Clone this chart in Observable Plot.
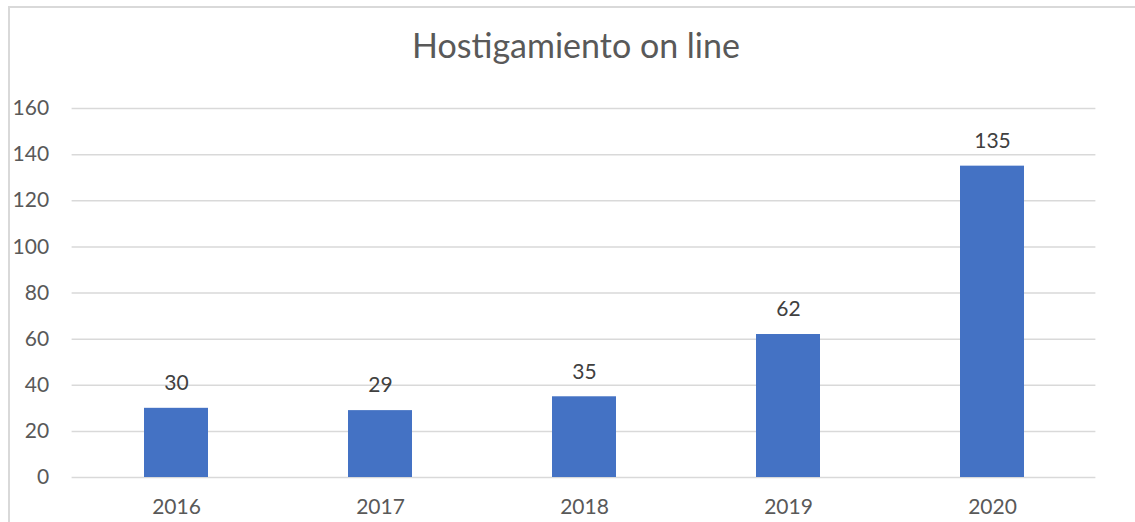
<!DOCTYPE html>
<html>
<head>
<meta charset="utf-8">
<script src="https://cdn.jsdelivr.net/npm/d3@7"></script>
<script src="https://cdn.jsdelivr.net/npm/@observablehq/plot@0.6"></script>
<style>
  html, body { margin: 0; padding: 0; background: #fff; overflow: hidden; }
  body { width: 1135px; height: 522px; position: relative; font-family: Lato, "Open Sans", sans-serif; }
  #frame { position: absolute; left: 8px; top: 6px; width: 1200px; height: 600px; border: 2px solid #d9d9d9; box-sizing: border-box; }
  #title { position: absolute; left: 0; top: 25px; width: 1152px; text-align: center; font-size: 34px; color: #595959; line-height: 40px; }
  #chart { position: absolute; left: 0; top: 80px; }
</style>
</head>
<body>
<div id="frame"></div>
<div id="title">Hostigamiento on line</div>
<div id="chart"></div>
<script>
const years = ["2016", "2017", "2018", "2019", "2020"];
const values = [30, 29, 35, 62, 135];
const yTicks = [0, 20, 40, 60, 80, 100, 120, 140, 160];

const data = years.map((y, i) => ({year: y, value: values[i]}));

const chart = Plot.plot({
  width: 1135,
  height: 442,
  marginTop: 28,
  marginBottom: 45,
  marginLeft: 71.6,
  marginRight: 39.6,
  style: {fontFamily: "Lato, 'Open Sans', sans-serif", fontSize: "21px", color: "#595959", background: "transparent"},
  x: {domain: years, paddingInner: 0.687, paddingOuter: 0.3435, label: null, tickSize: 0, tickPadding: 22},
  y: {domain: [0, 160], ticks: yTicks, label: null, tickSize: 0, tickPadding: 23},
  marks: [
    Plot.ruleY(yTicks, {stroke: "#d9d9d9", strokeWidth: 1.5, strokeOpacity: 1}),
    Plot.barY(data, {x: "year", y: "value", fill: "#4472c4"}),
    Plot.text(data, {x: "year", y: "value", text: d => String(d.value), dy: -25, fill: "#404040", fontSize: 21}),
    Plot.axisX({tickSize: 0, tickPadding: 22, fontSize: 21, fill: "#595959"}),
    Plot.axisY({ticks: yTicks, tickSize: 0, tickPadding: 23, fontSize: 21, fill: "#595959"})
  ]
});
document.getElementById("chart").appendChild(chart);
</script>
</body>
</html>
